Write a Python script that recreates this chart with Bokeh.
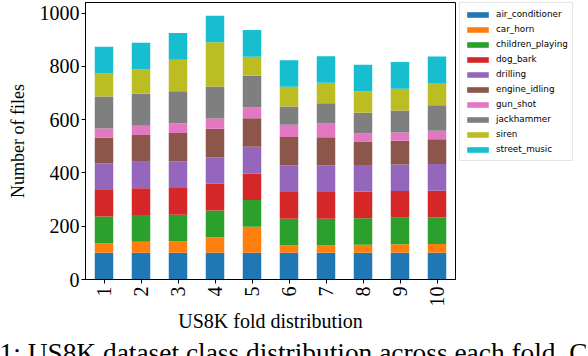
from math import pi
from bokeh.plotting import figure
from bokeh.models import (FactorRange, Range1d, Legend, LegendItem, FixedTicker,
                          Title, ColumnDataSource)
from bokeh.embed import file_html
from bokeh.resources import INLINE

folds = ["1", "2", "3", "4", "5", "6", "7", "8", "9", "10"]
classes = ["air_conditioner", "car_horn", "children_playing", "dog_bark", "drilling",
           "engine_idling", "gun_shot", "jackhammer", "siren", "street_music"]

air_conditioner = [100, 100, 100, 100, 100, 100, 100, 100, 100, 100]
car_horn = [36, 42, 43, 59, 98, 28, 28, 30, 32, 33]
children_playing = [100, 100, 100, 100, 100, 100, 100, 100, 100, 100]
dog_bark = [100, 100, 100, 100, 100, 100, 100, 100, 100, 100]
drilling = [100, 100, 100, 100, 100, 100, 100, 100, 100, 100]
engine_idling = [96, 100, 107, 107, 107, 107, 106, 88, 89, 93]
gun_shot = [35, 35, 36, 38, 40, 46, 51, 30, 31, 32]
jackhammer = [120, 120, 120, 120, 120, 68, 76, 78, 82, 96]
siren = [86, 91, 119, 166, 71, 74, 77, 80, 82, 83]
street_music = [100, 100, 100, 100, 100, 100, 100, 100, 100, 100]

yticks = [0, 200, 400, 600, 800, 1000]
colors = ["#1f77b4", "#ff7f0e", "#2ca02c", "#d62728", "#9467bd",
          "#8c564b", "#e377c2", "#7f7f7f", "#bcbd22", "#17becf"]

x_label = "US8K fold distribution"
y_label = "Number of files"
caption = "1: US8K dataset class distribution across each fold. C"

source = ColumnDataSource(dict(
    fold=folds,
    air_conditioner=air_conditioner, car_horn=car_horn,
    children_playing=children_playing, dog_bark=dog_bark, drilling=drilling,
    engine_idling=engine_idling, gun_shot=gun_shot, jackhammer=jackhammer,
    siren=siren, street_music=street_music,
))

p = figure(x_range=FactorRange(*folds, range_padding=0),
           y_range=Range1d(0, 1039.5),
           width=588, height=356,
           frame_width=370, frame_height=277,
           min_border_left=85, min_border_right=133,
           min_border_top=2, min_border_bottom=0,
           output_backend="svg", toolbar_location=None)

renderers = p.vbar_stack(classes, x="fold", width=0.5, fill_color=colors,
                         line_color=None, source=source)

serif = "Liberation Serif"
for ax in (p.xaxis[0], p.yaxis[0]):
    ax.axis_line_color = "black"
    ax.major_tick_line_color = "black"
    ax.major_tick_out = 4
    ax.major_tick_in = 0
    ax.minor_tick_line_color = None
    ax.major_label_text_font = serif
    ax.major_label_text_font_size = "20px"
    ax.major_label_text_color = "black"
    ax.axis_label_text_font = serif
    ax.axis_label_text_font_size = "20px"
    ax.axis_label_text_font_style = "normal"
    ax.axis_label_text_color = "black"

p.xaxis.major_label_orientation = pi / 2
p.xaxis.major_label_standoff = 3
p.xaxis.axis_label = x_label
p.xaxis.axis_label_standoff = 0
p.yaxis.ticker = FixedTicker(ticks=yticks)
p.yaxis.major_label_standoff = 2
p.yaxis.axis_label = y_label
p.yaxis.axis_label_text_font_size = "18px"
p.yaxis.axis_label_standoff = 9

p.xgrid.grid_line_color = None
p.ygrid.grid_line_color = None
p.outline_line_color = "black"
p.outline_line_alpha = 1
p.outline_line_width = 1
p.background_fill_color = "white"
p.border_fill_color = "white"

items = [LegendItem(label=c, renderers=[r]) for c, r in zip(classes, renderers)]
legend = Legend(items=items, location=(4, 118),
                label_text_font="DejaVu Sans", label_text_font_size="8.8px",
                label_text_color="black",
                glyph_width=27, glyph_height=7, label_height=14,
                label_standoff=5, padding=4, spacing=1, margin=0,
                border_line_color="#cccccc", border_line_width=1,
                background_fill_color="white", background_fill_alpha=0.8)
p.add_layout(legend, "right")

p.add_layout(Title(text=caption, align="left", offset=-86, standoff=2,
                   text_font=serif, text_font_size="27.4px",
                   text_font_style="normal", text_color="black"), "below")

open("out.html", "w").write(file_html(p, INLINE))
